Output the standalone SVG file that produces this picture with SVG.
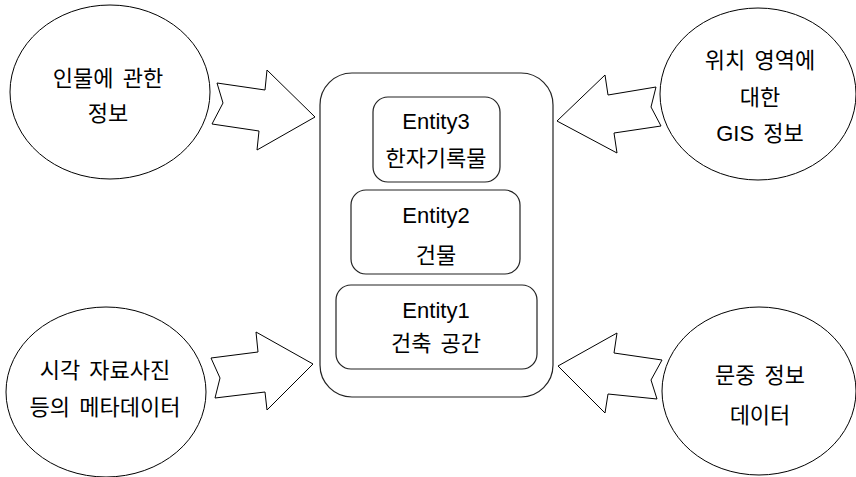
<svg xmlns="http://www.w3.org/2000/svg" width="856" height="477" viewBox="0 0 856 477">
<style>
.shape{fill:#fff;stroke:#000;stroke-width:1}
.box{fill:#fff;stroke:#222;stroke-width:1.2}
.t{font-family:"Liberation Sans","Noto Sans CJK KR",sans-serif;font-size:22px;fill:#000;text-anchor:middle;word-spacing:3px}
</style>
<rect width="856" height="477" fill="#fff"/>
<g id="connectors">
<polygon class="shape" points="217,83 265,90 267,70 315,117 257,150 259,131 212,124 223,103"/>
<polygon class="shape" points="557,121 605,75 608,95 656,87 651,107 661,126 614,133 617,153"/>
<polygon class="shape" points="211,358 258,352 256,332 313,364 267,410 265,392 215,398 220,378"/>
<polygon class="shape" points="558,366 617,333 614,353 662,360 651,380 657,399 608,394 605,413"/>
</g>
<g id="person">
<ellipse class="shape" cx="110" cy="92" rx="100" ry="87"/>
<text class="t" x="108" y="86">인물에 관한</text>
<text class="t" x="108" y="121">정보</text>
</g>
<g id="gis">
<ellipse class="shape" cx="758" cy="94" rx="98" ry="86"/>
<text class="t" x="760" y="68">위치 영역에</text>
<text class="t" x="760" y="105">대한</text>
<text class="t" x="760" y="141">GIS 정보</text>
</g>
<g id="visual">
<ellipse class="shape" cx="106" cy="392" rx="100" ry="85"/>
<text class="t" x="105" y="378">시각 자료사진</text>
<text class="t" x="105" y="415">등의 메타데이터</text>
</g>
<g id="clan">
<ellipse class="shape" cx="759" cy="391" rx="97" ry="84"/>
<text class="t" x="760" y="383">문중 정보</text>
<text class="t" x="760" y="423">데이터</text>
</g>
<g id="container">
<rect class="box" x="320" y="73" width="233" height="324" rx="32" ry="32"/>
</g>
<g id="entity3">
<rect class="box" x="373" y="97" width="127" height="85" rx="15" ry="15"/>
<text class="t" x="436" y="129">Entity3</text>
<text class="t" x="436" y="166">한자기록물</text>
</g>
<g id="entity2">
<rect class="box" x="351" y="190" width="169" height="84" rx="15" ry="15"/>
<text class="t" x="436" y="223">Entity2</text>
<text class="t" x="436" y="263">건물</text>
</g>
<g id="entity1">
<rect class="box" x="336" y="285" width="201" height="84" rx="15" ry="15"/>
<text class="t" x="436" y="318">Entity1</text>
<text class="t" x="436" y="351">건축 공간</text>
</g>
</svg>
